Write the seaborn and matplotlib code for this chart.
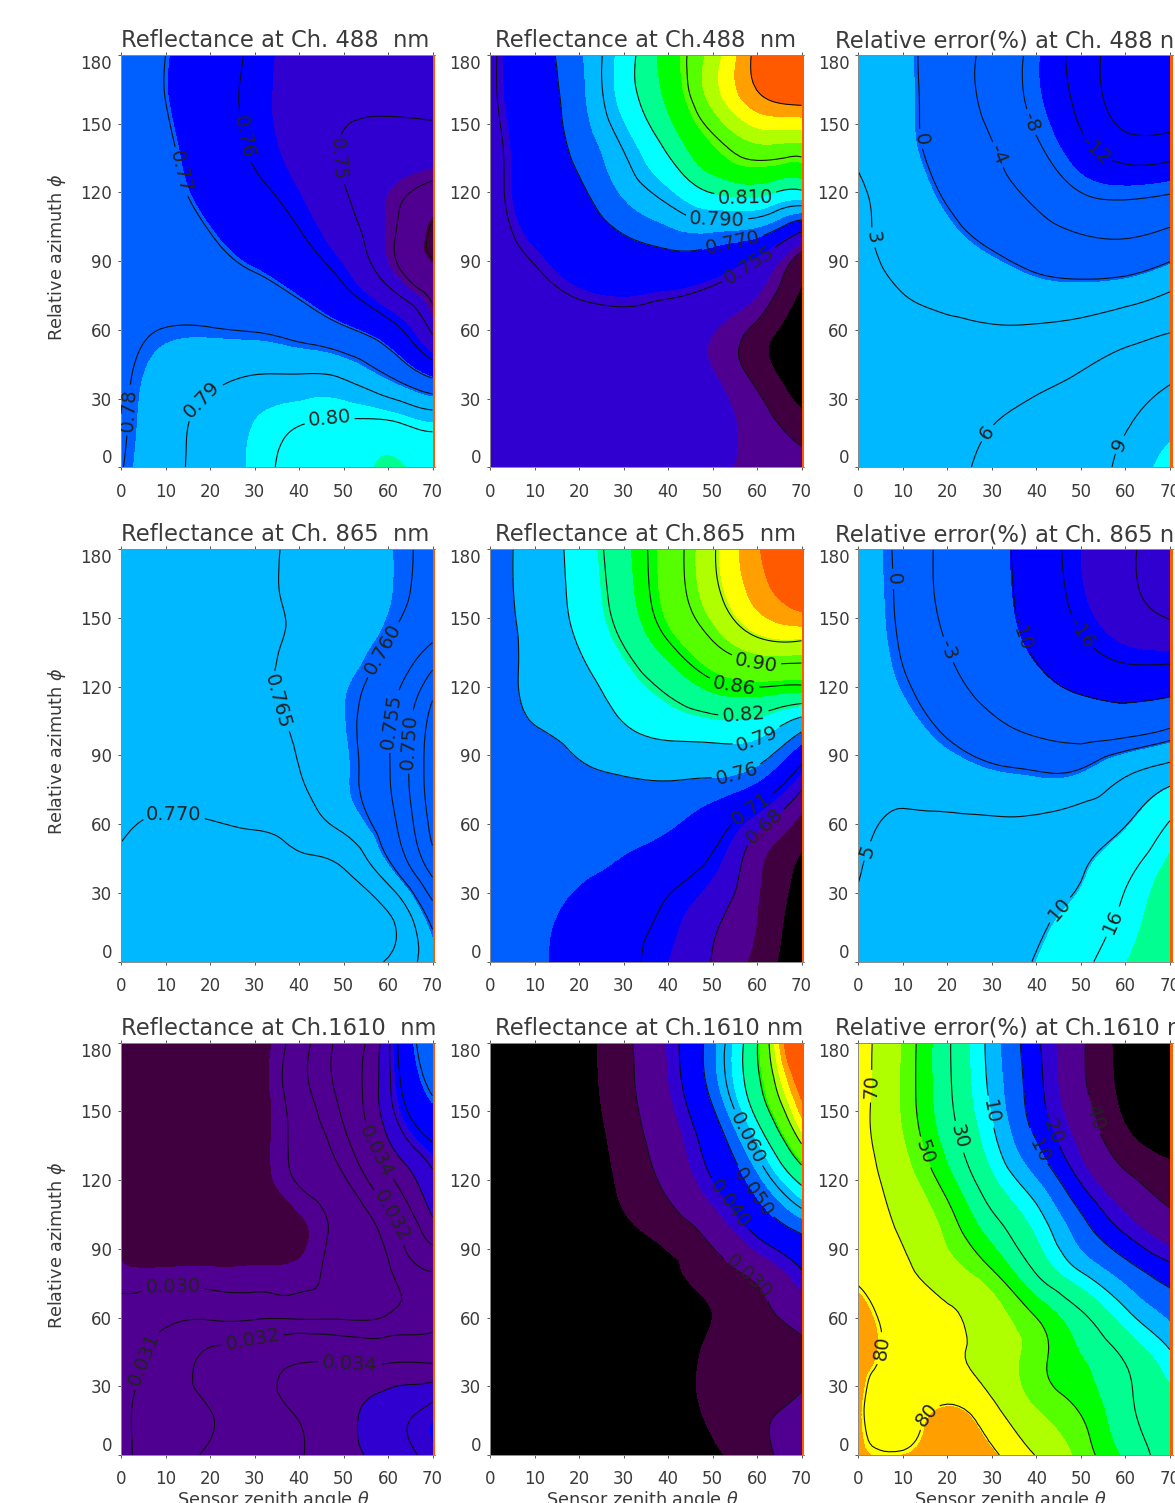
import numpy as np
import matplotlib
matplotlib.use("Agg")
import matplotlib.pyplot as plt
import matplotlib.tri as mtri
import seaborn as sns

sns.set_theme(style="ticks")
plt.rcParams['font.family'] = ['DejaVu Sans']

THETA = [0, 10, 20, 30, 40, 50, 60, 70]
PHI = [180, 160, 140, 120, 100, 80, 60, 40, 20, 0]
XTICKS = [0, 10, 20, 30, 40, 50, 60, 70]
YTICKS = [0, 30, 60, 90, 120, 150, 180]

PALETTE = ['#000000', '#400040', '#500090', '#3000d0', '#0000ff', '#0060ff', '#00b8ff',
           '#00ffff', '#00ff90', '#00ff00', '#55ff00', '#b0ff00', '#ffff00', '#ffa000', '#ff5a00']

r488_a = [[.776,.770,.7643,.7588,.755,.752,.751,.752],
          [.776,.770,.7635,.7585,.7545,.7515,.7505,.7505],
          [.777,.7715,.7645,.7592,.7545,.7495,.7485,.7485],
          [.777,.773,.7665,.7615,.757,.7505,.7465,.7435],
          [.777,.775,.7705,.766,.761,.7535,.746,.739],
          [.777,.776,.774,.7715,.7675,.76,.7495,.743],
          [.777,.7803,.7805,.7795,.7765,.7715,.764,.7488],
          [.778,.785,.788,.7902,.7905,.7888,.780,.7685],
          [.7785,.787,.792,.7965,.7995,.8005,.8005,.796],
          [.7795,.7875,.7925,.7975,.8025,.805,.8075,.806]]
r488_b = [[.753,.765,.778,.803,.824,.837,.852,.865],
          [.753,.764,.7765,.802,.8215,.8365,.848,.852],
          [.7515,.7625,.773,.791,.8125,.8275,.834,.8335],
          [.751,.7615,.768,.7815,.7955,.8105,.814,.8075],
          [.7505,.758,.763,.769,.7745,.7755,.7695,.7485],
          [.750,.753,.7575,.7595,.7585,.7555,.7475,.735],
          [.750,.7505,.751,.7515,.750,.7455,.7385,.730],
          [.750,.750,.750,.750,.7495,.7455,.7385,.730],
          [.7505,.7505,.7505,.750,.7495,.7475,.7425,.737],
          [.751,.751,.7505,.750,.7495,.7462,.744,.742]]
e488 = [[2.3,.9,-2,-5.2,-9.2,-13.6,-19,-23],
        [2.4,1.0,-1.9,-5.1,-9,-13,-18.5,-20],
        [2.7,1.1,-1.4,-3.8,-7.5,-11.2,-14.2,-14],
        [3.2,1.8,-.4,-2.6,-5,-8,-8.8,-8.2],
        [3.25,2.2,.9,-.6,-2.2,-3.6,-4.05,-2.7],
        [3.7,2.8,2.0,1.5,.7,.4,.85,2.3],
        [4,3.8,3.5,3.2,3.3,3.8,4.8,5.8],
        [4.4,4.4,4.5,4.7,5.2,6.2,7.5,8.6],
        [4.7,4.9,5.2,5.9,6.9,7.9,8.8,10.4],
        [5,5.2,5.6,6.4,7.4,8.4,9.5,13]]
r865_a = [[.767,.7665,.766,.7658,.7642,.7628,.7612,.759],
          [.767,.7665,.766,.7658,.7642,.7628,.7612,.7585],
          [.767,.7665,.766,.7655,.7645,.7625,.76,.7553],
          [.767,.7668,.766,.7655,.7638,.7612,.7572,.747],
          [.7675,.767,.766,.7657,.7645,.7612,.7555,.7425],
          [.768,.768,.767,.766,.7652,.7615,.7555,.742],
          [.7695,.7705,.7703,.7695,.7678,.7637,.757,.7435],
          [.7705,.7715,.772,.772,.7712,.7702,.762,.7485],
          [.771,.772,.7725,.7725,.7725,.772,.7705,.758],
          [.771,.772,.7725,.773,.773,.7725,.7695,.7625]]
r865_b = [[.745,.773,.80,.838,.881,.936,.995,1.07],
          [.745,.772,.798,.834,.879,.93,.98,1.03],
          [.745,.768,.792,.822,.860,.90,.935,.94],
          [.745,.766,.78,.803,.826,.852,.861,.857],
          [.745,.758,.768,.785,.796,.80,.797,.759],
          [.745,.748,.755,.759,.7615,.7595,.745,.693],
          [.748,.749,.749,.747,.743,.724,.688,.652],
          [.744,.746,.743,.735,.72,.703,.664,.635],
          [.744,.743,.735,.72,.706,.686,.66,.625],
          [.744,.743,.731,.716,.70,.679,.654,.622]]
e865 = [[1.9,-.7,-4.2,-8.2,-12.8,-18,-21,-26],
        [2,-.6,-4.1,-8,-12.4,-17.6,-21,-24],
        [2.2,-.3,-3.2,-7,-11.2,-15.5,-18.5,-19.5],
        [2.6,.4,-1.9,-4.6,-8,-11.2,-12.7,-12],
        [3,1.8,-.3,-2,-3.4,-4.4,-4.2,-2],
        [3.6,3.8,2.7,1.4,.7,1.3,5.2,8.4],
        [4.3,5.4,5.5,5.6,6,7.5,9.8,16.5],
        [4.9,5.8,6,6.8,8,9.6,14.5,21.5],
        [5.2,6,6.5,7.4,9,12,17.3,24],
        [5.4,6.2,6.8,8,10.3,14.5,19.8,25]]
r1610_a = [[.029,.0285,.0285,.029,.0305,.0325,.0375,.052],
           [.029,.0285,.0285,.029,.0306,.0325,.0375,.047],
           [.029,.0285,.0285,.029,.0303,.0318,.0362,.0408],
           [.029,.0285,.0285,.029,.0301,.0309,.0335,.0375],
           [.0295,.0288,.0288,.0289,.0293,.0303,.0315,.0355],
           [.0296,.0296,.0296,.0296,.0297,.0303,.0309,.032],
           [.0305,.0308,.0309,.0309,.0309,.0309,.0311,.0316],
           [.0307,.0314,.0323,.0331,.034,.034,.034,.034],
           [.0308,.0315,.032,.033,.0342,.0355,.037,.0385],
           [.0308,.0315,.0322,.0331,.0339,.0353,.0369,.0387]]
r1610_b = [[.024,.025,.0265,.0292,.0365,.054,.0795,.125],
           [.024,.025,.0265,.029,.0355,.0525,.077,.108],
           [.024,.0245,.026,.0285,.033,.0455,.066,.094],
           [.024,.0245,.0255,.028,.031,.04,.054,.0725],
           [.024,.024,.025,.027,.0285,.0325,.043,.053],
           [.024,.024,.0245,.0255,.027,.0285,.0315,.0395],
           [.024,.024,.024,.025,.026,.0275,.0288,.032],
           [.024,.024,.024,.0245,.0255,.0282,.0285,.0287],
           [.024,.024,.024,.025,.026,.028,.0293,.0312],
           [.024,.024,.024,.0245,.0255,.027,.0292,.0315]]
e1610 = [[75,57,32,6,-18,-38,-58,-75],
         [75,56.5,32.5,7.5,-16.5,-37,-56,-68],
         [74,58,36,12,-12,-31,-50,-60],
         [76,63,45,21,1.5,-21,-37,-46],
         [77,68,55,35,16,-6,-23,-35],
         [79,73,62.5,51,29,10,-4.5,-16],
         [82,77,72,63,50,33,14,-.5],
         [82,77,72.5,65,53,42,30,14],
         [81,77,81,73,58,49,33,23],
         [81,80.5,82.5,81.5,69.5,55,39,23]]

FILLS = [([.7405,.7465,.757,.7695,.782,.7965,.807], 1),
         ([.735,.74,.745,.757,.77,.78,.798,.81,.82,.828,.835,.84,.845,.85], 0),
         ([-9.5,.3,11.5], 4),
         ([.761,.80], 5),
         ([.64,.66,.68,.70,.74,.76,.79,.815,.845,.87,.915,.945,.97,1.0], 0),
         ([-18,-9.8,.6,10.3,20], 3),
         ([.0295,.036,.039,.045], 1),
         ([.0275,.03,.036,.04,.05,.056,.064,.07,.08,.082,.09,.095,.10,.105], 0),
         ([-52,-40,-27,-20,-10,1,10,19,41,50,58,70,80.5], 0)]
LINES = [[.74,.745,.75,.76,.77,.78,.79,.80],
         [.74,.755,.77,.79,.81,.83,.85],
         [-16,-12,-8,-4,0,3,6,9],
         [.745,.75,.755,.76,.765,.77],
         [.68,.71,.76,.79,.82,.86,.90,.94],
         [-22,-16,-10,-3,0,5,10,16],
         [.03,.031,.032,.034,.036,.038,.04,.046],
         [.03,.04,.05,.06,.07,.08,.09],
         [-40,-20,-10,10,30,50,70,80]]
FMTS = ['%.2f', '%.3f', '%d', '%.3f', '%.2f', '%d', '%.3f', '%.3f', '%d']
LABELS = [[(1.5,25),(19,28),(47,17),(13.3,129),(29.4,145),(50.7,135)],
          [(58,89),(54.8,95),(51,107),(57.4,117)],
          [(15,143.6),(30.8,136),(39.2,151),(53.6,139),(1.9,100),(29,15),(57.4,11)],
          [(12,67),(36,114),(58,137),(60.5,105),(64,96)],
          [(59.6,128.7),(54.7,118.5),(57,107),(59.6,99),(55,85),(58.5,67.6),(61.5,59.6)],
          [(8.3,167),(20,136),(36.8,143),(49.5,142.6),(1,49),(44,25),(56,18.5)],
          [(11.8,73.5),(4.6,42),(29.8,48.7),(51.5,41.5),(58,133),(62,105.5)],
          [(57.8,76.4),(54.8,111),(59.6,115),(57.4,138)],
          [(3,161),(4.9,46.6),(13.3,21),(16.2,133),(22.9,139),(30,150),(40.5,135),(43.5,142.6),(53.2,149)]]
FIELDS = [r488_a, r488_b, e488, r865_a, r865_b, e865, r1610_a, r1610_b, e1610]
TITLES = ['Reflectance at Ch. 488  nm', 'Reflectance at Ch.488  nm', 'Relative error(%) at Ch. 488 nm',
          'Reflectance at Ch. 865  nm', 'Reflectance at Ch.865  nm', 'Relative error(%) at Ch. 865 nm',
          'Reflectance at Ch.1610  nm', 'Reflectance at Ch.1610 nm', 'Relative error(%) at Ch.1610 nm']

W, H = 1175, 1503
fig = plt.figure(figsize=(W/100, H/100), dpi=100, facecolor='white')
COL_X = [121, 490, 858.3]
ROW_Y = [(55, 467.3), (549, 961.7), (1042.7, 1455)]
TITLE_X = [121, 495, 835]
SCALE = 311.5 / 70
XMAX = 70.65
TEXT = '#3a3a3a'

tt, pp = np.meshgrid(THETA, PHI)
pal = sns.color_palette(PALETTE)

for i in range(9):
    r, c = divmod(i, 3)
    top, bot = ROW_Y[r]
    x0 = COL_X[c]
    ax = fig.add_axes([x0/W, 1-bot/H, XMAX*SCALE/W, (bot-top)/H])
    tri = mtri.Triangulation(tt.ravel(), pp.ravel())
    z = np.array(FIELDS[i], dtype=float).ravel()
    tr2, z2 = mtri.UniformTriRefiner(tri).refine_field(z, subdiv=3)
    bounds, start = FILLS[i]
    cols = [pal[k] for k in range(start, start + len(bounds) + 1)]
    ax.tricontourf(tr2, z2, levels=bounds, colors=cols, extend='both', antialiased=False)
    cs = ax.tricontour(tr2, z2, levels=LINES[i], colors='#101010', linewidths=0.8, linestyles='solid')
    ax.clabel(cs, fmt=FMTS[i], fontsize=14, inline=True, inline_spacing=4, manual=LABELS[i])
    for t in cs.labelTexts:
        t.set_color('#222222')
    ax.axvspan(70, XMAX, color='#ff5a00', lw=0, zorder=5)
    ax.set_xlim(0, XMAX)
    ax.set_ylim(0, 180)
    ax.set_xticks(XTICKS)
    ax.set_yticks(YTICKS)
    ax.tick_params(axis='x', top=True, bottom=True, length=2.5, width=0.7, color='#555555',
                   labelsize=12, labelcolor=TEXT, pad=8.5)
    ax.tick_params(axis='y', left=True, length=2.5, width=0.7, color='#555555',
                   labelsize=12, labelcolor=TEXT, pad=4)
    labs = ax.get_yticklabels()
    labs[0].set_va('bottom')
    labs[-1].set_va('top')
    for name, sp in ax.spines.items():
        sp.set_linewidth(0.7)
        sp.set_color('#8a8a8a')
    ax.spines['right'].set_visible(False)
    fig.text(TITLE_X[c]/W, 1-(top-8)/H, TITLES[i], fontsize=16.3, color=TEXT, ha='left', va='baseline')
    if c == 0:
        fig.text(57/W, 1-((top+bot)/2-4)/H, 'Relative azimuth $\\phi$', rotation=90, fontsize=12.7,
                 color=TEXT, ha='center', va='center')
    if r == 2:
        fig.text((x0+152)/W, 1-1505/H, 'Sensor zenith angle $\\theta$', fontsize=12.7, color=TEXT,
                 ha='center', va='baseline')

fig.savefig('out.png', dpi=100, facecolor='white')
